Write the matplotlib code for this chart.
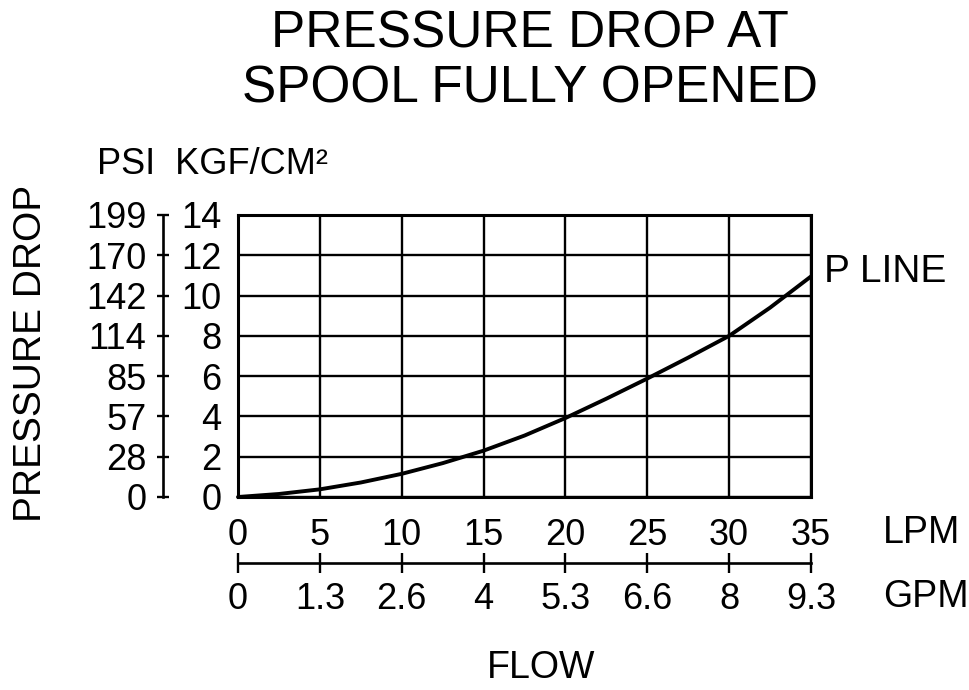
import matplotlib
matplotlib.use("Agg")
import matplotlib.pyplot as plt

plt.rcParams['font.family'] = ['Liberation Sans', 'DejaVu Sans']

# flow (LPM) and pressure drop (kgf/cm2)
flow_lpm = [0, 2.5, 5, 7.5, 10, 12.5, 15, 17.5, 20, 22.5, 25, 27.5, 30, 32.5, 35]
p_line = [0, 0.15, 0.38, 0.72, 1.15, 1.68, 2.3, 3.05, 3.92, 4.88, 5.88, 6.92, 8.0, 9.4, 10.95]

lpm_ticks = [0, 5, 10, 15, 20, 25, 30, 35]
gpm_labels = ['0', '1.3', '2.6', '4', '5.3', '6.6', '8', '9.3']
kgf_ticks = [0, 2, 4, 6, 8, 10, 12, 14]
psi_labels = ['0', '28', '57', '85', '114', '142', '170', '199']

fig = plt.figure(figsize=(9.69, 6.9), dpi=100)
ax = fig.add_axes([238 / 969, 1 - 497 / 690, 573 / 969, 282 / 690])

ax.plot(flow_lpm, p_line, color='black', lw=2.8, solid_capstyle='round',
        solid_joinstyle='round', clip_on=False)
ax.set_xlim(0, 35)
ax.set_ylim(0, 14)

ax.set_xticks(lpm_ticks, [str(t) for t in lpm_ticks])
ax.set_yticks(kgf_ticks, [str(t) for t in kgf_ticks])
ax.grid(True, color='black', lw=1.7)
ax.tick_params(axis='x', length=0, pad=15, labelsize=26)
ax.tick_params(axis='y', length=0, pad=12, labelsize=26)
for s in ax.spines.values():
    s.set_linewidth(2.2)

# PSI scale on its own vertical line
psi = ax.secondary_yaxis(-0.131)
psi.set_yticks(kgf_ticks, psi_labels)
psi.tick_params(direction='inout', length=8, width=1.7, pad=8, labelsize=26)
for s in psi.spines.values():
    s.set_linewidth(1.9)

# GPM scale below the LPM labels
gpm = ax.secondary_xaxis(-0.234)
gpm.set_xticks(lpm_ticks, gpm_labels)
gpm.tick_params(direction='inout', length=14, width=1.7, pad=7, labelsize=26)
for s in gpm.spines.values():
    s.set_linewidth(1.9)

ax.annotate('P LINE', xy=(flow_lpm[-1], p_line[-1]), xytext=(9, 3),
            textcoords='offset points', ha='left', va='center', fontsize=28)

fig.text(0.547, 0.951, 'PRESSURE DROP AT', ha='center', va='center', fontsize=37)
fig.text(0.547, 0.871, 'SPOOL FULLY OPENED', ha='center', va='center', fontsize=37)
fig.text(97 / 969, 1 - 165 / 690, 'PSI  KGF/CM²', ha='left', va='center', fontsize=26)
fig.text(31 / 969, 0.488, 'PRESSURE DROP', rotation=90, ha='center', va='center', fontsize=28)
fig.text(883 / 969, 1 - 533 / 690, 'LPM', ha='left', va='center', fontsize=27)
fig.text(883 / 969, 1 - 597 / 690, 'GPM', ha='left', va='center', fontsize=27)
fig.text(541 / 969, 1 - 668 / 690, 'FLOW', ha='center', va='center', fontsize=27)

fig.savefig('out.png', dpi=100)
